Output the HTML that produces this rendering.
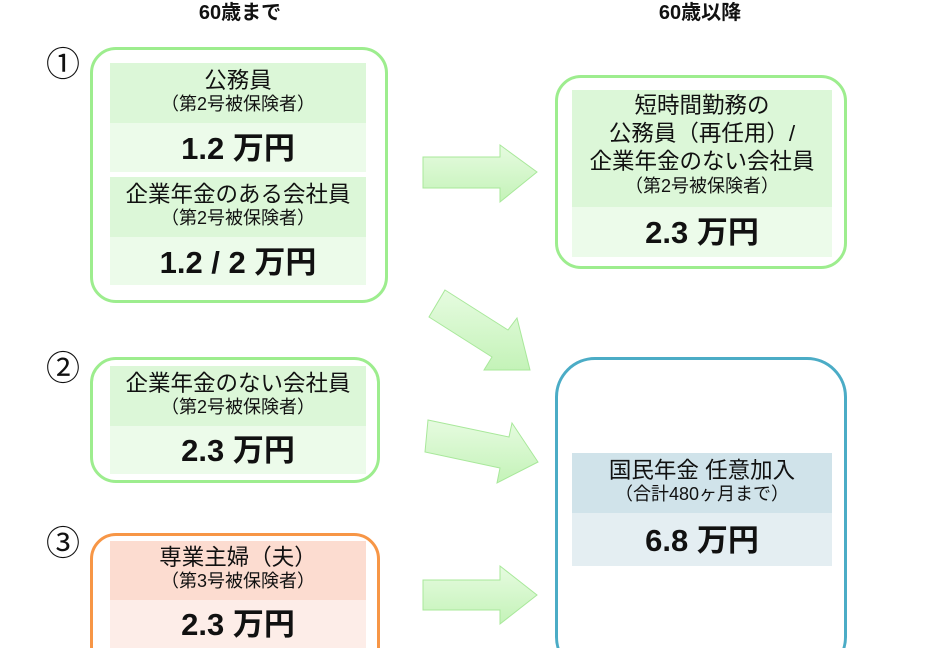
<!DOCTYPE html>
<html><head><meta charset="utf-8"><style>
html,body{margin:0;padding:0;overflow:hidden;height:648px}
#w{position:relative;width:936px;height:648px;overflow:hidden;background:#fff;font-family:"Liberation Sans","Noto Sans CJK JP",sans-serif;color:#111}
.a{position:absolute;box-sizing:border-box}
.box{border:3px solid #9ded8e;border-radius:26px;background:#fff}
.h{text-align:center;line-height:1.15}
.t{font-size:22.5px}
.s{font-size:18px}
.v{font-size:31px;font-weight:bold;text-align:center}
.num{font-size:34px;position:absolute;line-height:1}
</style></head><body><div id="w">
<div class="a" style="left:180px;top:0;width:120px;font-weight:bold;font-size:20px;text-align:center;line-height:26px">60歳まで</div>
<div class="a" style="left:640px;top:0;width:120px;font-weight:bold;font-size:20px;text-align:center;line-height:26px">60歳以降</div>
<div class="num" style="left:46px;top:48px">①</div>
<div class="num" style="left:46px;top:352px">②</div>
<div class="num" style="left:46px;top:527px">③</div>

<div class="a box" style="left:90px;top:47px;width:298px;height:256px"></div>
<div class="a h" style="left:110px;top:63px;width:256px;height:60px;background:#dcf7d8;padding-top:5px"><div class="t">公務員</div><div class="s">（第2号被保険者）</div></div>
<div class="a v" style="left:110px;top:123px;width:256px;height:49px;background:#ecfbea;line-height:52px">1.2 万円</div>
<div class="a h" style="left:110px;top:177px;width:256px;height:60px;background:#dcf7d8;padding-top:5px"><div class="t">企業年金のある会社員</div><div class="s">（第2号被保険者）</div></div>
<div class="a v" style="left:110px;top:237px;width:256px;height:48px;background:#ecfbea;line-height:52px">1.2 / 2 万円</div>

<div class="a box" style="left:90px;top:357px;width:290px;height:126px"></div>
<div class="a h" style="left:110px;top:366px;width:256px;height:60px;background:#dcf7d8;padding-top:5px"><div class="t">企業年金のない会社員</div><div class="s">（第2号被保険者）</div></div>
<div class="a v" style="left:110px;top:426px;width:256px;height:48px;background:#ecfbea;line-height:50px">2.3 万円</div>

<div class="a box" style="left:90px;top:533px;width:290px;height:140px;border-color:#f79646"></div>
<div class="a h" style="left:110px;top:541px;width:256px;height:59px;background:#fcdcd0;padding-top:4px"><div class="t">専業主婦（夫）</div><div class="s">（第3号被保険者）</div></div>
<div class="a v" style="left:110px;top:600px;width:256px;height:48px;background:#fdede8;line-height:50px">2.3 万円</div>

<div class="a box" style="left:555px;top:75px;width:292px;height:194px"></div>
<div class="a h" style="left:572px;top:90px;width:260px;height:117px;background:#dcf7d8;padding-top:2px"><div class="t" style="line-height:1.25">短時間勤務の<br>公務員（再任用）/<br>企業年金のない会社員</div><div class="s">（第2号被保険者）</div></div>
<div class="a v" style="left:572px;top:207px;width:260px;height:50px;background:#ecfbea;line-height:52px">2.3 万円</div>

<div class="a box" style="left:555px;top:357px;width:292px;height:320px;border-color:#4bacc6;border-radius:40px"></div>
<div class="a h" style="left:572px;top:453px;width:260px;height:60px;background:#d0e3ea;padding-top:5px"><div class="t">国民年金 任意加入</div><div class="s">（合計480ヶ月まで）</div></div>
<div class="a v" style="left:572px;top:513px;width:260px;height:53px;background:#e4eef2;line-height:56px">6.8 万円</div>

<svg class="a" style="left:0;top:0" width="936" height="648">
<defs><linearGradient id="g" x1="0" y1="0" x2="0" y2="1"><stop offset="0" stop-color="#e6fbe0"/><stop offset="1" stop-color="#c4f3b8"/></linearGradient></defs>
<g fill="url(#g)" stroke="#a8e89a" stroke-width="1">
<polygon points="423,157 500,157 500,145 537,172 500,202 500,188 423,188"/>
<polygon points="423,580 500,580 500,566 537,595 500,624 500,610 423,610"/>
<polygon points="445,290 508,330 517,318 530,370 484,370 492,357 429,317"/>
<polygon points="428,420 509,437 512,423 538,462 497,483 500,468 425,452"/>
</g>
</svg>
</div></body></html>
